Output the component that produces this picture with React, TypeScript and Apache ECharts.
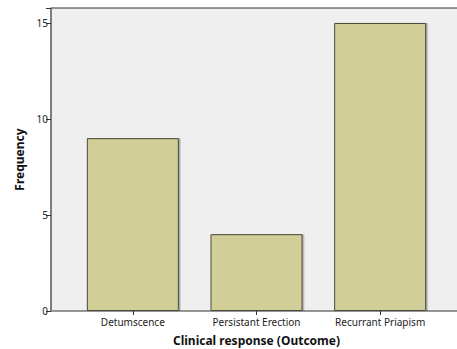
import React, { useEffect, useRef } from "react";
import * as echarts from "echarts";

const categories = ["Detumscence", "Persistant Erection", "Recurrant Priapism"];
const frequency = [9, 4, 15];
const yTicks = [0, 5, 10, 15];

export default function App() {
  const ref = useRef<HTMLDivElement>(null);
  useEffect(() => {
    if (!ref.current) return;
    const chart = echarts.init(ref.current, null, { renderer: "svg" });
    const font = "'Noto Sans', 'DejaVu Sans', sans-serif";
    chart.setOption({
      animation: false,
      grid: [
        {
          left: 51, right: -3, top: 8, bottom: 38,
          outerBoundsMode: "none", containLabel: false,
          show: true, backgroundColor: "#efefef",
          borderColor: "#333", borderWidth: 1,
        },
        { left: 71, right: 15, top: 8, bottom: 38, outerBoundsMode: "none", containLabel: false },
      ],
      xAxis: [
        { gridIndex: 0, type: "value", show: false, min: 0, max: 1 },
        {
          gridIndex: 1,
          type: "category",
          data: categories,
          name: "Clinical response (Outcome)",
          nameLocation: "middle",
          nameGap: 23,
          nameTextStyle: { fontFamily: font, fontWeight: "bold", fontSize: 12, color: "#111" },
          axisLine: { show: false },
          axisTick: { show: true, alignWithLabel: true, length: 4, lineStyle: { color: "#333" } },
          axisLabel: { fontFamily: font, fontSize: 10, color: "#222", margin: 6 },
        },
      ],
      yAxis: [
        { gridIndex: 0, type: "value", show: false, min: 0, max: 1 },
        {
          gridIndex: 1,
          type: "value",
          min: yTicks[0],
          max: 15.78,
          interval: 5,
          offset: 20,
          name: "Frequency",
          nameLocation: "middle",
          nameGap: 25,
          nameTextStyle: { fontFamily: font, fontWeight: "bold", fontSize: 12, color: "#111" },
          axisLine: { show: true, lineStyle: { color: "#777", width: 1.5 } },
          axisTick: { show: true, length: 5, lineStyle: { color: "#333" } },
          axisLabel: {
            fontFamily: font, fontSize: 10, color: "#222", margin: 3,
            formatter: (v: number) => (yTicks.includes(v) ? String(v) : ""),
          },
          splitLine: { show: false },
        },
      ],
      series: [
        {
          type: "bar",
          xAxisIndex: 1,
          yAxisIndex: 1,
          data: frequency,
          barWidth: 92,
          itemStyle: {
            color: "#d2ce97",
            borderColor: "#4a4a3a",
            borderWidth: 1,
            shadowColor: "rgba(0,0,0,0.3)",
            shadowOffsetX: 1.5,
            shadowOffsetY: 0,
            shadowBlur: 1,
          },
        },
      ],
    });
    return () => chart.dispose();
  }, []);
  return <div ref={ref} style={{ width: 457, height: 349, position: "absolute", left: 0, top: 0 }} />;
}
